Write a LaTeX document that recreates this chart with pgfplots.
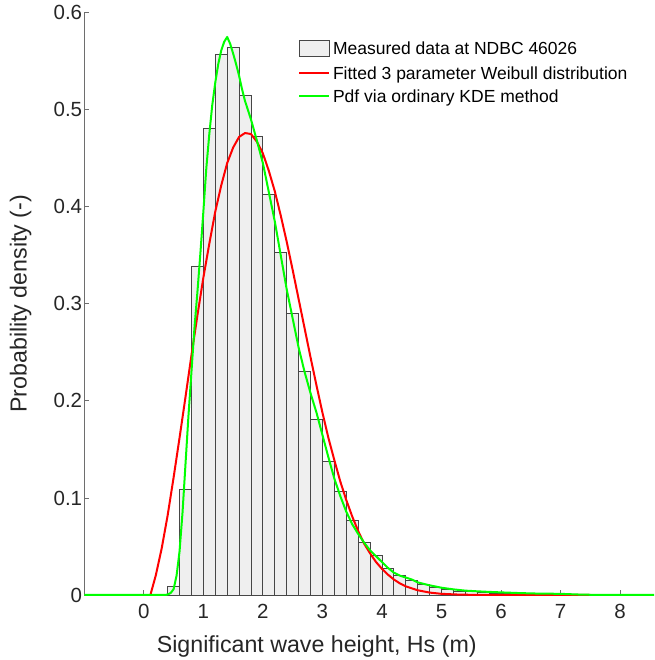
\documentclass[border=0pt]{standalone}
\usepackage{fontspec}
\setmainfont{Liberation Sans}
\usepackage{pgfplots}
\pgfplotsset{compat=1.18}
\definecolor{barfill}{RGB}{239,239,239}
\definecolor{baredge}{RGB}{70,70,70}
\definecolor{axcol}{RGB}{110,110,110}
\definecolor{txtcol}{RGB}{38,38,38}
\definecolor{mred}{RGB}{255,0,0}
\definecolor{mgreen}{RGB}{0,255,0}
\begin{document}
\begin{tikzpicture}
\begin{axis}[
  at={(84.3pt,65pt)}, anchor=south west,
  width=569.7pt, height=582.3pt, scale only axis,
  xmin=-1, xmax=8.57, ymin=0, ymax=0.6,
  axis x line*=bottom, axis y line*=left,
  axis line style={axcol, line width=0.8pt, -},
  every tick/.style={axcol, line width=0.8pt},
  tick align=inside, major tick length=5pt,
  xtick={0,1,2,3,4,5,6,7,8},
  xticklabels={0,1,2,3,4,5,6,7,8},
  ytick={0,0.1,0.2,0.3,0.4,0.5,0.6},
  yticklabels={0,0.1,0.2,0.3,0.4,0.5,0.6},
  xticklabel style={font=\fontsize{20.5}{24}\selectfont, text=txtcol, anchor=base, inner sep=0pt, yshift=-23.3pt},
  yticklabel style={font=\fontsize{20.5}{24}\selectfont, text=txtcol, anchor=east, inner sep=0pt, xshift=-2pt},
  xlabel={Significant wave height, Hs (m)},
  ylabel={Probability density (-)},
  every axis x label/.style={at={(axis description cs:0.408,-0.0984)}, anchor=base, inner sep=0pt, font=\fontsize{23.2}{27}\selectfont, text=txtcol},
  every axis y label/.style={at={(axis description cs:-0.1011,0.5)}, rotate=90, anchor=base, inner sep=0pt, font=\fontsize{23.2}{27}\selectfont, text=txtcol},
  clip=false,
  legend cell align=left,
  legend style={at={(axis description cs:0.3757,1)}, anchor=north west, yshift=-27pt,
    draw=none, fill=none, inner sep=0pt, outer sep=0pt,
    font=\fontsize{17.5}{21}\selectfont, text=black,
    row sep=9.8pt, column sep=2.7pt,
    nodes={inner sep=0pt, text height=13pt, text depth=0pt}},
]
\addplot[ybar interval, fill=barfill, draw=baredge, line width=0.8pt,
  legend image code/.code={\draw[fill=barfill, draw=baredge, line width=0.8pt] (0pt,-8.3pt) rectangle (30pt,8.3pt);}]
  table[row sep=\\] {
x y\\
0.4 0.009\\
0.6 0.109\\
0.8 0.339\\
1.0 0.481\\
1.2 0.557\\
1.4 0.564\\
1.6 0.515\\
1.8 0.473\\
2.0 0.413\\
2.2 0.353\\
2.4 0.290\\
2.6 0.230\\
2.8 0.181\\
3.0 0.1375\\
3.2 0.1065\\
3.4 0.0773\\
3.6 0.0543\\
3.8 0.0405\\
4.0 0.0275\\
4.2 0.0199\\
4.4 0.0148\\
4.6 0.0106\\
4.8 0.0079\\
5.0 0.0055\\
5.2 0.0042\\
5.4 0.0032\\
5.6 0.0024\\
5.8 0.0018\\
6.0 0.0013\\
6.2 0.0010\\
6.4 0.0008\\
6.6 0.0006\\
6.8 0.0005\\
7.0 0.0003\\
7.2 0.0002\\
7.4 0\\
};
\addlegendentry{Measured data at NDBC 46026}
\addplot[mred, line width=2pt, line join=round,
  legend image code/.code={\draw[mred, line width=2pt] (0pt,0pt) -- (30pt,0pt);}]
  table[row sep=\\] {
x y\\
0.11 0\\
0.20 0.020\\
0.30 0.048\\
0.40 0.082\\
0.50 0.121\\
0.60 0.162\\
0.70 0.204\\
0.80 0.247\\
0.90 0.288\\
1.00 0.327\\
1.10 0.362\\
1.20 0.395\\
1.30 0.422\\
1.40 0.445\\
1.50 0.461\\
1.60 0.472\\
1.70 0.476\\
1.80 0.475\\
1.90 0.467\\
2.00 0.455\\
2.10 0.437\\
2.20 0.416\\
2.30 0.391\\
2.40 0.364\\
2.50 0.335\\
2.60 0.305\\
2.70 0.275\\
2.80 0.245\\
2.90 0.216\\
3.00 0.188\\
3.10 0.162\\
3.20 0.139\\
3.30 0.117\\
3.40 0.098\\
3.50 0.081\\
3.60 0.066\\
3.70 0.053\\
3.80 0.043\\
3.90 0.034\\
4.00 0.027\\
4.10 0.021\\
4.20 0.016\\
4.30 0.012\\
4.40 0.0089\\
4.60 0.0049\\
4.80 0.0025\\
5.00 0.0012\\
5.30 0.0004\\
5.60 0.0001\\
6.00 0\\
7.50 0\\
};
\addlegendentry{Fitted 3 parameter Weibull distribution}
\addplot[mgreen, line width=2pt, line join=round,
  legend image code/.code={\draw[mgreen, line width=2pt] (0pt,0pt) -- (30pt,0pt);}]
  table[row sep=\\] {
x y\\
-1.00 0\\
0.35 0\\
0.40 0.0005\\
0.45 0.002\\
0.50 0.006\\
0.55 0.020\\
0.60 0.045\\
0.65 0.085\\
0.70 0.135\\
0.75 0.185\\
0.80 0.230\\
0.85 0.275\\
0.90 0.312\\
0.95 0.352\\
1.00 0.395\\
1.05 0.440\\
1.10 0.475\\
1.15 0.505\\
1.20 0.528\\
1.25 0.547\\
1.30 0.561\\
1.35 0.570\\
1.40 0.575\\
1.45 0.568\\
1.50 0.558\\
1.55 0.547\\
1.60 0.535\\
1.65 0.521\\
1.70 0.509\\
1.80 0.490\\
1.90 0.468\\
2.00 0.445\\
2.10 0.415\\
2.20 0.385\\
2.30 0.350\\
2.40 0.315\\
2.50 0.285\\
2.60 0.255\\
2.70 0.230\\
2.80 0.208\\
2.90 0.188\\
3.00 0.165\\
3.10 0.142\\
3.20 0.120\\
3.30 0.102\\
3.40 0.086\\
3.50 0.073\\
3.60 0.063\\
3.70 0.054\\
3.80 0.046\\
3.90 0.040\\
4.00 0.034\\
4.10 0.028\\
4.20 0.023\\
4.30 0.020\\
4.40 0.018\\
4.50 0.016\\
4.60 0.013\\
4.80 0.010\\
5.00 0.0075\\
5.20 0.0058\\
5.40 0.0045\\
5.60 0.0038\\
5.80 0.0032\\
6.00 0.0027\\
6.30 0.0020\\
6.60 0.0015\\
7.00 0.0012\\
7.30 0.0005\\
7.60 0.0001\\
8.00 0\\
8.57 0\\
};
\addlegendentry{Pdf via ordinary KDE method}
\end{axis}
\pgfresetboundingbox
\path (0pt,0pt) rectangle (654pt,660pt);
\end{tikzpicture}
\end{document}
